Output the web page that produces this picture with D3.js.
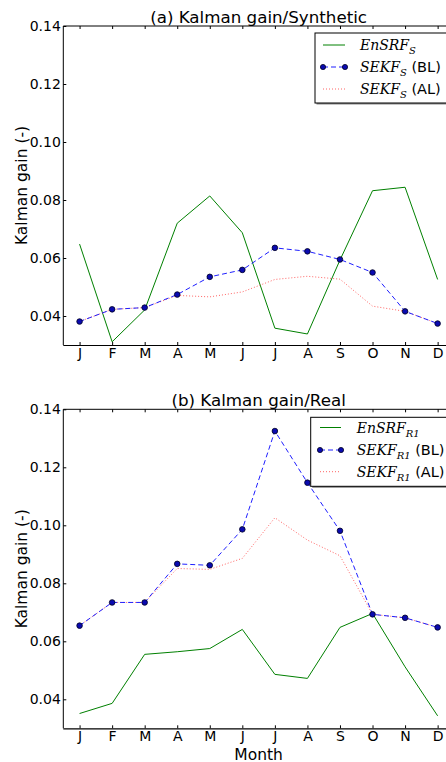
<!DOCTYPE html>
<html><head><meta charset="utf-8">
<script src="https://cdn.jsdelivr.net/npm/d3@7"></script>
<style>body{margin:0;background:#fff}svg{display:block}text{font-family:"DejaVu Sans",sans-serif;fill:#000}</style>
</head><body><svg id="c" width="446" height="762"></svg>
<script>
const months = ["J","F","M","A","M","J","J","A","S","O","N","D"];
const yTicks = [0.04,0.06,0.08,0.10,0.12,0.14];
const ensrfS = [0.0648,0.0311,0.0421,0.0720,0.0814,0.0687,0.0358,0.0338,0.0593,0.0832,0.0844,0.0526];
const sekfS_BL = [0.0381,0.0423,0.0429,0.0474,0.0535,0.0559,0.0635,0.0623,0.0595,0.0550,0.0416,0.0374];
const sekfS_AL = [0.0381,0.0423,0.0429,0.0471,0.0466,0.0483,0.0526,0.0537,0.0527,0.0434,0.0416,0.0374];
const ensrfR = [0.0351,0.0386,0.0555,0.0564,0.0575,0.0641,0.0486,0.0472,0.0648,0.0696,0.0512,0.0343];
const sekfR_BL = [0.0654,0.0734,0.0734,0.0867,0.0862,0.0986,0.1325,0.1147,0.0981,0.0693,0.0681,0.0648];
const sekfR_AL = [0.0654,0.0734,0.0734,0.0851,0.0848,0.0886,0.1026,0.0949,0.0895,0.0693,0.0681,0.0648];

const svg = d3.select("#c");
const L = 63.3, R = 453.9;
const x = d3.scaleLinear().domain([-0.5, 11.5]).range([L, R]);

function panel(top, bottom, title, sub, data, leg) {
  const y = d3.scaleLinear().domain([0.03, 0.14]).range([bottom, top]);
  const g = svg.append("g");
  const line = arr => d3.line().x((d,i)=>x(i)).y(d=>y(d))(arr);
  g.append("path").attr("d", line(data[0])).attr("fill","none").attr("stroke","#008000").attr("stroke-width",1);
  g.append("path").attr("d", line(data[2])).attr("fill","none").attr("stroke","#ff3030").attr("stroke-opacity",0.75).attr("stroke-width",1).attr("stroke-dasharray","1,2");
  g.append("path").attr("d", line(data[1])).attr("fill","none").attr("stroke","#2020ff").attr("stroke-width",1).attr("stroke-dasharray","5,3");
  g.selectAll("circle.m").data(data[1]).enter().append("circle")
    .attr("cx",(d,i)=>x(i)).attr("cy",d=>y(d)).attr("r",2.8)
    .attr("fill","#0a0ab0").attr("stroke","#000020").attr("stroke-width",0.8);
  // frame
  g.append("line").attr("x1",L).attr("x2",L).attr("y1",top).attr("y2",bottom).attr("stroke","#000");
  g.append("line").attr("x1",L).attr("x2",R).attr("y1",top).attr("y2",top).attr("stroke","#000");
  // axes
  const xa = d3.axisBottom(x).tickValues(d3.range(12)).tickFormat(i=>months[i]).tickSize(-3).tickPadding(3);
  const gx = g.append("g").attr("transform",`translate(0,${bottom})`).call(xa);
  gx.select(".domain").attr("d",`M${L},0.5H${R}`).attr("stroke-width",1.2);
  gx.selectAll("text").attr("font-size",14).attr("font-family","DejaVu Sans");
  const xt = d3.axisTop(x).tickValues(d3.range(12)).tickFormat("").tickSize(-3);
  const gxt = g.append("g").attr("transform",`translate(0,${top})`).call(xt);
  gxt.select(".domain").remove();
  const ya = d3.axisLeft(y).tickValues(yTicks).tickFormat(d3.format(".2f")).tickSize(-3).tickPadding(2.5);
  const gy = g.append("g").attr("transform",`translate(${L},0)`).call(ya);
  gy.select(".domain").remove();
  gy.selectAll("text").attr("font-size",14).attr("font-family","DejaVu Sans");
  // title
  g.append("text").attr("x",(L+R)/2).attr("y",top-3.5).attr("text-anchor","middle").attr("font-size",16.7).text(title);
  g.append("text").attr("transform",`translate(26.5,${(top+bottom)/2}) rotate(-90)`).attr("text-anchor","middle").attr("font-size",15.5).text("Kalman gain (-)");
  // legend
  const lg = g.append("g");
  lg.append("rect").attr("x",leg.x+1.5).attr("y",leg.y+1.5).attr("width",200).attr("height",leg.h).attr("fill","#888");
  lg.append("rect").attr("x",leg.x).attr("y",leg.y).attr("width",200).attr("height",leg.h).attr("fill","#fff").attr("stroke","#000").attr("stroke-width",1);
  const names = ["EnSRF","SEKF","SEKF"], suffix = [""," (BL)"," (AL)"];
  leg.rows.forEach((ry,k)=>{
    const sx0 = leg.sx, sx1 = leg.sx+leg.sw;
    if (k===0) lg.append("line").attr("x1",sx0).attr("x2",sx1).attr("y1",ry).attr("y2",ry).attr("stroke","#008000");
    if (k===1) {
      lg.append("line").attr("x1",sx0).attr("x2",sx1).attr("y1",ry).attr("y2",ry).attr("stroke","#2020ff").attr("stroke-dasharray","5,3");
      [sx0,sx1].forEach(cx=>lg.append("circle").attr("cx",cx).attr("cy",ry).attr("r",2.6).attr("fill","#0a0ab0").attr("stroke","#000020").attr("stroke-width",0.8));
    }
    if (k===2) lg.append("line").attr("x1",sx0).attr("x2",sx1).attr("y1",ry).attr("y2",ry).attr("stroke","#ff3030").attr("stroke-opacity",0.75).attr("stroke-dasharray","1,2");
    const t = lg.append("text").attr("x",leg.tx).attr("y",ry+5).attr("font-size",14.5);
    t.append("tspan").attr("font-family","DejaVu Serif").attr("font-style","italic").attr("font-size",14).text(names[k]);
    t.append("tspan").attr("font-family","DejaVu Serif").attr("font-style","italic").attr("font-size",10).attr("dy",4).text(sub);
    t.append("tspan").attr("dy",-4).attr("font-size",14.5).text(suffix[k]);
  });
}

panel(26, 345, "(a) Kalman gain/Synthetic", "S", [ensrfS, sekfS_BL, sekfS_AL],
  {x:315, y:33, h:70, rows:[45,67,89], sx:323, sw:22, tx:360});
panel(409.3, 728.3, "(b) Kalman gain/Real", "R1", [ensrfR, sekfR_BL, sekfR_AL],
  {x:310.7, y:417.3, h:69, rows:[427.5,450,471.7], sx:320, sw:21, tx:356.7});

svg.append("text").attr("x",(L+R)/2).attr("y",759.5).attr("text-anchor","middle").attr("font-size",15.5).text("Month");
</script></body></html>
